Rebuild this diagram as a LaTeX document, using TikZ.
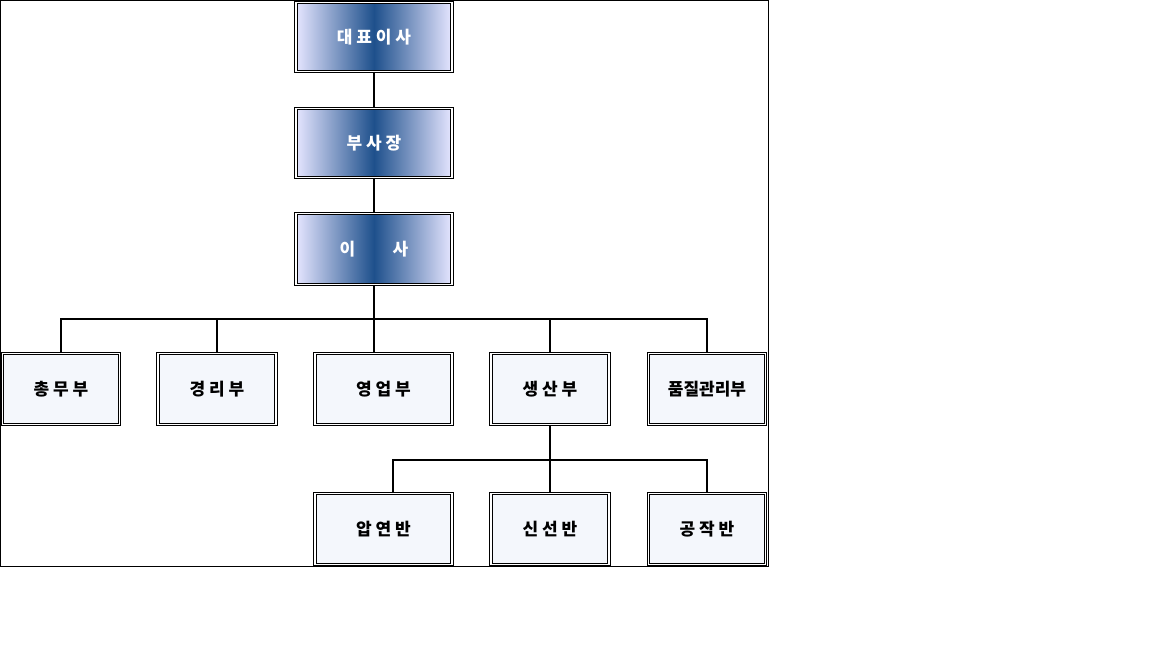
\documentclass[tikz,border=0pt]{standalone}
\usepackage{fontspec}
\newfontfamily\kr{Noto Sans CJK KR}
\begin{document}
\begin{tikzpicture}[x=1pt,y=-1pt,
  box/.style={draw=black,double=white,double distance=1.8pt,line width=0.8pt,inner sep=0pt,font=\kr\bfseries\fontsize{17}{17}\selectfont},
  top/.style={box,minimum width=156pt,minimum height=69pt,text=white,shade,shading angle=135,left color=white!90!blue,right color=white!90!blue,middle color={rgb,255:red,30;green,80;blue,140}},
  dept/.style={box,fill={rgb,255:red,244;green,247;blue,252},minimum height=71pt},
  ln/.style={line width=1.5pt}]
\useasboundingbox (0,0) rectangle (1152,648);
\draw[line width=0.6pt] (0.3,0.3) rectangle (768,566);
\node[top] (ceo) at (374,37) {대 표 이 사};
\node[top] (vp) at (374,143) {부 사 장};
\node[top,minimum height=71pt] (dir) at (374,249) {이\hspace{2.2em}사};
\node[dept,minimum width=117pt] (a) at (61,389) {총 무 부};
\node[dept,minimum width=118pt] (b) at (217,389) {경 리 부};
\node[dept,minimum width=137pt] (c) at (383.5,389) {영 업 부};
\node[dept,minimum width=118pt] (d) at (550,389) {생 산 부};
\node[dept,minimum width=117pt] (e) at (707,389) {품질관리부};
\node[dept,minimum width=137pt] (f) at (383.5,529) {압 연 반};
\node[dept,minimum width=118pt] (g) at (550,529) {신 선 반};
\node[dept,minimum width=117pt] (h) at (707,529) {공 작 반};
\coordinate (ctop) at (374,353);
\coordinate (ftop) at (393,493);
\draw[ln] (ceo.south) -- (vp.north);
\draw[ln] (vp.south) -- (dir.north);
\draw[ln] (dir.south) -- (ctop);
\draw[ln] (a.north) -- ++(0,-34) -| (e.north);
\draw[ln] (b.north) -- ++(0,-34);
\draw[ln] (d.north) -- ++(0,-34);
\draw[ln] (d.south) -- (g.north);
\draw[ln] (ftop) -- ++(0,-33) -| (h.north);
\end{tikzpicture}
\end{document}
